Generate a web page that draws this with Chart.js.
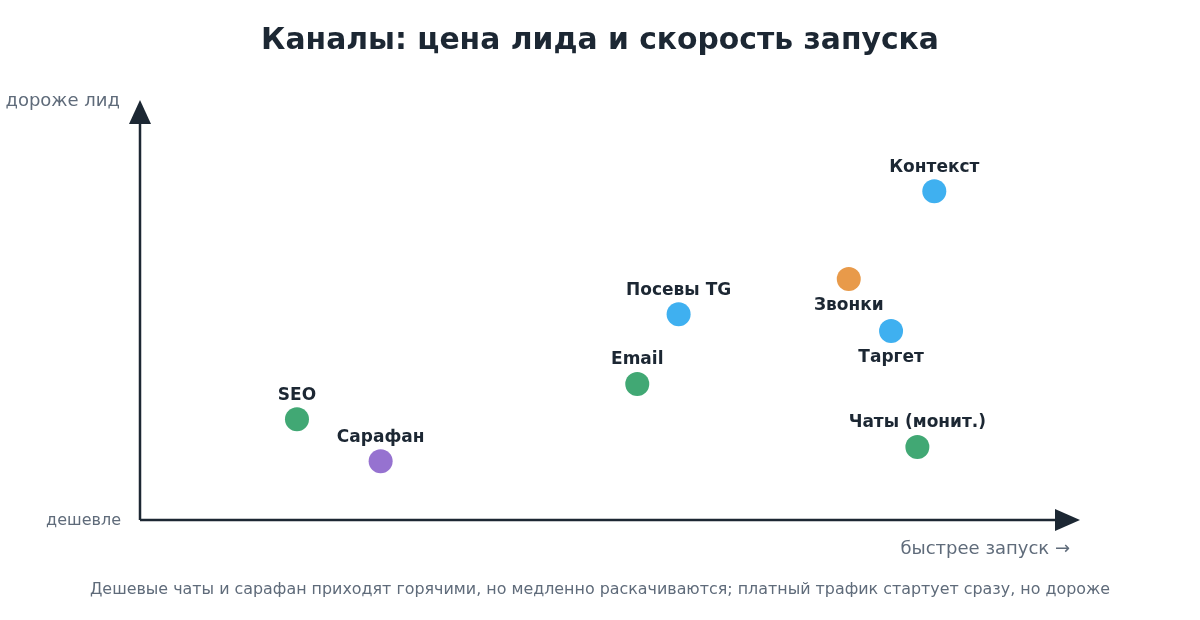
<!DOCTYPE html>
<html><head><meta charset="utf-8">
<script src="https://cdn.jsdelivr.net/npm/chart.js@4.4.0/dist/chart.umd.min.js"></script>
<style>html,body{margin:0;padding:0;background:#fff;}#wrap{width:1200px;height:620px;}</style>
</head><body><div id="wrap"><canvas id="c" width="1200" height="620"></canvas></div>
<script>
const channels = ["SEO","Сарафан","Email","Посевы TG","Звонки","Таргет","Контекст","Чаты (монит.)"];
const launchSpeed = [16.7, 25.6, 52.9, 57.3, 75.4, 79.9, 84.5, 82.7];
const leadCost = [24.0, 14.0, 32.4, 49.0, 57.4, 45.0, 78.3, 17.4];
const groups = ["organic","referral","organic","paid","calls","paid","paid","organic"];
const labelSide = ["above","above","above","above","below","below","above","above"];
const groupColors = {organic:"#41a874", referral:"#9672d0", paid:"#3fb0f0", calls:"#e89a4a"};
const titleText = "Каналы: цена лида и скорость запуска";
const yHigh = "дороже лид", yLow = "дешевле", xLabel = "быстрее запуск →";
const caption = "Дешевые чаты и сарафан приходят горячими, но медленно раскачиваются; платный трафик стартует сразу, но дороже";

const FONT = "'DejaVu Sans', sans-serif";
const ink = "#1c2733", muted = "#5f6b7a";

const decor = {
  id: "decor",
  beforeDatasetsDraw(chart) {
    const {ctx, chartArea: a} = chart;
    ctx.save();
    ctx.strokeStyle = ink; ctx.fillStyle = ink; ctx.lineWidth = 2.5;
    ctx.beginPath(); ctx.moveTo(a.left, a.bottom); ctx.lineTo(a.left, a.top + 20); ctx.stroke();
    ctx.beginPath(); ctx.moveTo(a.left, a.bottom); ctx.lineTo(a.right - 20, a.bottom); ctx.stroke();
    ctx.beginPath(); ctx.moveTo(a.left, a.top); ctx.lineTo(a.left - 11, a.top + 24); ctx.lineTo(a.left + 11, a.top + 24); ctx.closePath(); ctx.fill();
    ctx.beginPath(); ctx.moveTo(a.right, a.bottom); ctx.lineTo(a.right - 25, a.bottom - 11); ctx.lineTo(a.right - 25, a.bottom + 11); ctx.closePath(); ctx.fill();
    ctx.restore();
  },
  afterDraw(chart) {
    const {ctx, chartArea: a} = chart;
    ctx.save();
    ctx.textBaseline = "middle";
    ctx.fillStyle = ink; ctx.textAlign = "center";
    ctx.font = "bold 29.8px " + FONT;
    ctx.fillText(titleText, 600, 41);
    ctx.fillStyle = muted;
    ctx.textAlign = "right";
    ctx.font = "18px " + FONT;
    ctx.fillText(yHigh, a.left - 20, a.top + 1);
    ctx.font = "16px " + FONT;
    ctx.fillText(yLow, a.left - 19, a.bottom + 1);
    ctx.font = "18px " + FONT;
    ctx.fillText(xLabel, a.right - 10, a.bottom + 29);
    ctx.textAlign = "center";
    ctx.font = "15.9px " + FONT;
    ctx.fillText(caption, 600, 590);
    const meta = chart.getDatasetMeta(0);
    ctx.fillStyle = ink;
    ctx.font = "bold 17px " + FONT;
    meta.data.forEach((pt, i) => {
      const dy = labelSide[i] === "below" ? 27 : -24;
      ctx.fillText(channels[i], pt.x, pt.y + dy);
    });
    ctx.restore();
  }
};

new Chart(document.getElementById("c"), {
  type: "scatter",
  data: {
    datasets: [{
      data: launchSpeed.map((x, i) => ({x, y: leadCost[i]})),
      backgroundColor: groups.map(g => groupColors[g]),
      borderWidth: 0,
      pointRadius: 12,
      pointHoverRadius: 12,
      clip: false
    }]
  },
  options: {
    responsive: false,
    animation: false,
    events: [],
    layout: {padding: {left: 140, right: 120, top: 100, bottom: 100}},
    plugins: {legend: {display: false}, tooltip: {enabled: false}, title: {display: false}},
    scales: {
      x: {type: "linear", min: 0, max: 100, display: false},
      y: {type: "linear", min: 0, max: 100, display: false}
    }
  },
  plugins: [decor]
});
</script>
</body></html>
